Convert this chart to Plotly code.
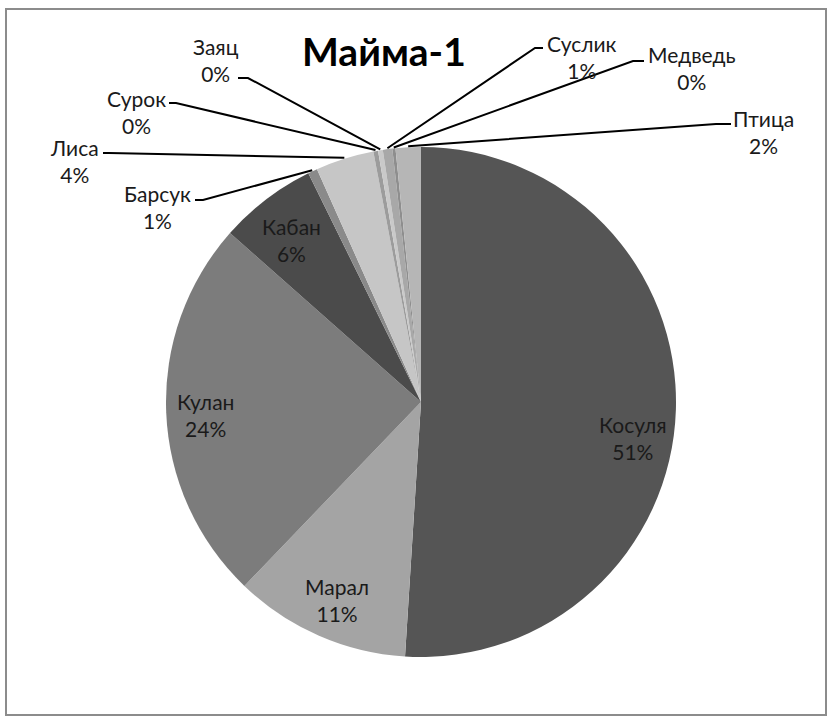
import math
import plotly.graph_objects as go

W, H = 828, 717

# ---- data ----
categories = ["Косуля", "Марал", "Кулан", "Кабан", "Барсук", "Лиса",
              "Сурок", "Заяц", "Суслик", "Медведь", "Птица"]
values = [51.1, 11.2, 24.4, 6.2, 0.6, 3.7, 0.3, 0.3, 0.6, 0.2, 1.6]
title_text = "Майма-1"

# ---- style / layout ----
colors = ["#555555", "#a4a4a4", "#7c7c7c", "#4b4b4b", "#8a8a8a", "#c6c6c6",
          "#9c9c9c", "#c9c9c9", "#a8a8a8", "#8e8e8e", "#b6b6b6"]
CX, CY, R = 421, 402, 255
FONT = "Lato, Carlito, Calibri, sans-serif"
TXT = "#1a1a1a"

inside_pos = {"Косуля": (633, 438), "Марал": (337, 600),
              "Кулан": (205, 415), "Кабан": (291, 240)}
# label block centre, (line end at label side, elbow) x, line y
outside_pos = {
    "Барсук": ((157, 207), (195, 203), 200),
    "Лиса": ((74, 161), (103, 109), 153),
    "Сурок": ((136, 112), (169, 176), 103),
    "Заяц": ((216, 60), (238, 248), 78),
    "Суслик": ((582, 57), (543, 535), 48),
    "Медведь": ((692, 68), (644, 633), 61),
    "Птица": ((763, 132), (731, 716), 124),
}

def px(x):
    return x / W

def py(y):
    return 1 - y / H

total = sum(values)
fig = go.Figure(go.Pie(
    labels=categories, values=values, sort=False, direction="clockwise",
    rotation=0, marker=dict(colors=colors, line=dict(width=0)),
    textinfo="none", hoverinfo="label+percent", showlegend=False,
    domain=dict(x=[px(CX - R), px(CX + R)], y=[py(CY + R), py(CY - R)]),
))

annotations = []
shapes = []
cum = 0.0
for name, v in zip(categories, values):
    mid = (cum + v / 2) / total * 2 * math.pi
    cum += v
    pct = int(v / total * 100 + 0.5)
    text = f"{name}<br>{pct}%"
    if name in inside_pos:
        x, y = inside_pos[name]
    else:
        (x, y), (xe, xb), ly = outside_pos[name]
        ax = CX + (R + 1) * math.sin(mid)
        ay = CY - (R + 1) * math.cos(mid)
        shapes.append(dict(
            type="path", xref="paper", yref="paper",
            path=f"M {px(ax)},{py(ay)} L {px(xb)},{py(ly)} L {px(xe)},{py(ly)}",
            line=dict(color="#000000", width=2)))
    annotations.append(dict(
        x=px(x), y=py(y), xref="paper", yref="paper", text=text,
        showarrow=False, xanchor="center", yanchor="middle",
        font=dict(family=FONT, size=21, color=TXT)))

annotations.append(dict(
    x=px(384), y=py(51), xref="paper", yref="paper",
    text=f"<b>{title_text}</b>", showarrow=False,
    xanchor="center", yanchor="middle",
    font=dict(family=FONT, size=39, color="#000000")))

shapes.append(dict(type="rect", xref="paper", yref="paper",
                   x0=px(6), x1=px(826), y0=py(715), y1=py(9),
                   line=dict(color="#8c8c8c", width=2)))

fig.update_layout(width=W, height=H, margin=dict(l=0, r=0, t=0, b=0),
                  paper_bgcolor="white", plot_bgcolor="white",
                  annotations=annotations, shapes=shapes, showlegend=False)

fig.write_html("out.html", config={"displayModeBar": False},
               post_script="document.body.style.margin='0';"
                           "document.body.style.padding='0';"
                           "document.body.style.overflow='hidden';")
